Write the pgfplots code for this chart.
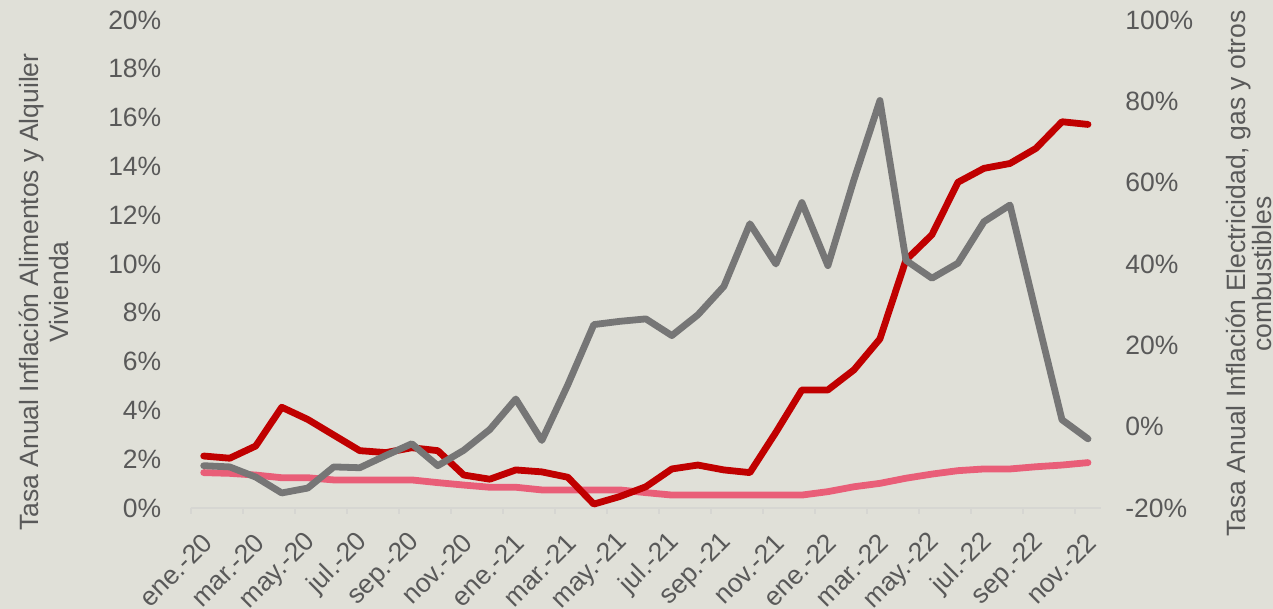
\documentclass[border=0pt]{standalone}
\usepackage{fontspec}
\setmainfont{Liberation Sans}
\usepackage{pgfplots}
\usepackage{pgfplotstable}
\pgfplotsset{compat=1.18}
\definecolor{bgcol}{RGB}{224,224,216}
\definecolor{txtgray}{RGB}{89,89,89}
\definecolor{axgray}{RGB}{214,214,210}
\definecolor{colAlim}{RGB}{192,0,0}
\definecolor{colAlq}{RGB}{233,94,120}
\definecolor{colElec}{RGB}{118,118,118}

% i, alimentos, alquiler vivienda (left axis), electricidad (right axis)
\pgfplotstableread{
i  alim   alq   elec
0  2.13   1.45  -9.6
1  2.04   1.42  -9.9
2  2.54   1.35  -12.4
3  4.13   1.24  -16.3
4  3.63   1.24  -15.1
5  2.99   1.15  -9.9
6  2.35   1.15  -10.1
7  2.27   1.15  -7.1
8  2.47   1.15  -4.2
9  2.35   1.04  -9.6
10 1.35   0.94  -5.8
11 1.18   0.85  -0.7
12 1.56   0.85  6.8
13 1.48   0.74  -3.4
14 1.26   0.74  10.3
15 0.16   0.74  25.1
16 0.47   0.74  25.9
17 0.87   0.63  26.5
18 1.60   0.53  22.4
19 1.76   0.53  27.5
20 1.56   0.53  34.5
21 1.45   0.53  49.9
22 3.10   0.53  40.0
23 4.84   0.53  55.1
24 4.84   0.67  39.6
25 5.66   0.87  60.7
26 6.93   1.01  80.2
27 10.16  1.22  40.9
28 11.20  1.39  36.5
29 13.35  1.53  40.2
30 13.92  1.60  50.4
31 14.12  1.60  54.5
32 14.74  1.69  28.0
33 15.83  1.76  1.7
34 15.72  1.86  -3.0
}\datatable

\newcommand{\lblfont}{\fontsize{13.25pt}{15.5pt}\selectfont}

\pgfplotsset{
  common/.style={
    at={(95.35pt,50.5pt)}, anchor=south west,
    scale only axis, width=455.15pt, height=244pt,
    xmin=-0.5, xmax=34.5,
    clip=false,
    tick label style={font=\lblfont, text=txtgray},
    yticklabel style={inner sep=0pt},
    ytick style={draw=none},
  },
  serie/.style={line width=3.4pt, line join=round, line cap=round, mark=none},
}

\begin{document}
\begin{tikzpicture}
\fill[bgcol] (0,0) rectangle (636.5pt,304.5pt);

\begin{axis}[common,
  ymin=0, ymax=20,
  axis x line*=bottom, axis y line*=left,
  y axis line style={draw=none},
  x axis line style={draw=axgray, line width=1pt, -},
  xtick={-0.5,1.5,...,33.5},
  xticklabels={ene.-20,mar.-20,may.-20,jul.-20,sep.-20,nov.-20,
    ene.-21,mar.-21,may.-21,jul.-21,sep.-21,nov.-21,
    ene.-22,mar.-22,may.-22,jul.-22,sep.-22,nov.-22},
  xtick style={draw=axgray, line width=1pt},
  major tick length=3pt, tick align=outside,
  xticklabel style={inner sep=0pt, xshift=8.5pt, yshift=-12pt, rotate=45, anchor=east},
  ytick={0,2,...,20},
  yticklabels={0\%,2\%,4\%,6\%,8\%,10\%,12\%,14\%,16\%,18\%,20\%},
  yticklabel style={anchor=east, xshift=-11.5pt},
]
\addplot[serie, colAlq] table[x=i, y=alq] {\datatable};
\addplot[serie, colAlim] table[x=i, y=alim] {\datatable};
\end{axis}

\begin{axis}[common,
  ymin=-20, ymax=100,
  axis x line=none, axis y line*=right,
  y axis line style={draw=none},
  ytick={-20,0,...,100},
  yticklabels={-20\%,0\%,20\%,40\%,60\%,80\%,100\%},
  yticklabel style={anchor=west, xshift=12pt},
]
\addplot[serie, colElec] table[x=i, y=elec] {\datatable};
\end{axis}

\node[rotate=90, anchor=base, font=\lblfont, text=txtgray] at (19pt,158.5pt)
  {Tasa Anual Inflación Alimentos y Alquiler};
\node[rotate=90, anchor=base, font=\lblfont, text=txtgray] at (34pt,158.5pt)
  {Vivienda};
\node[rotate=90, anchor=base, font=\lblfont, text=txtgray] at (622.5pt,167.75pt)
  {Tasa Anual Inflación Electricidad, gas y otros};
\node[rotate=90, anchor=base, font=\lblfont, text=txtgray] at (635.75pt,167.5pt)
  {combustibles};

\pgfresetboundingbox
\path (0,0) rectangle (636.5pt,304.5pt);
\end{tikzpicture}
\end{document}
